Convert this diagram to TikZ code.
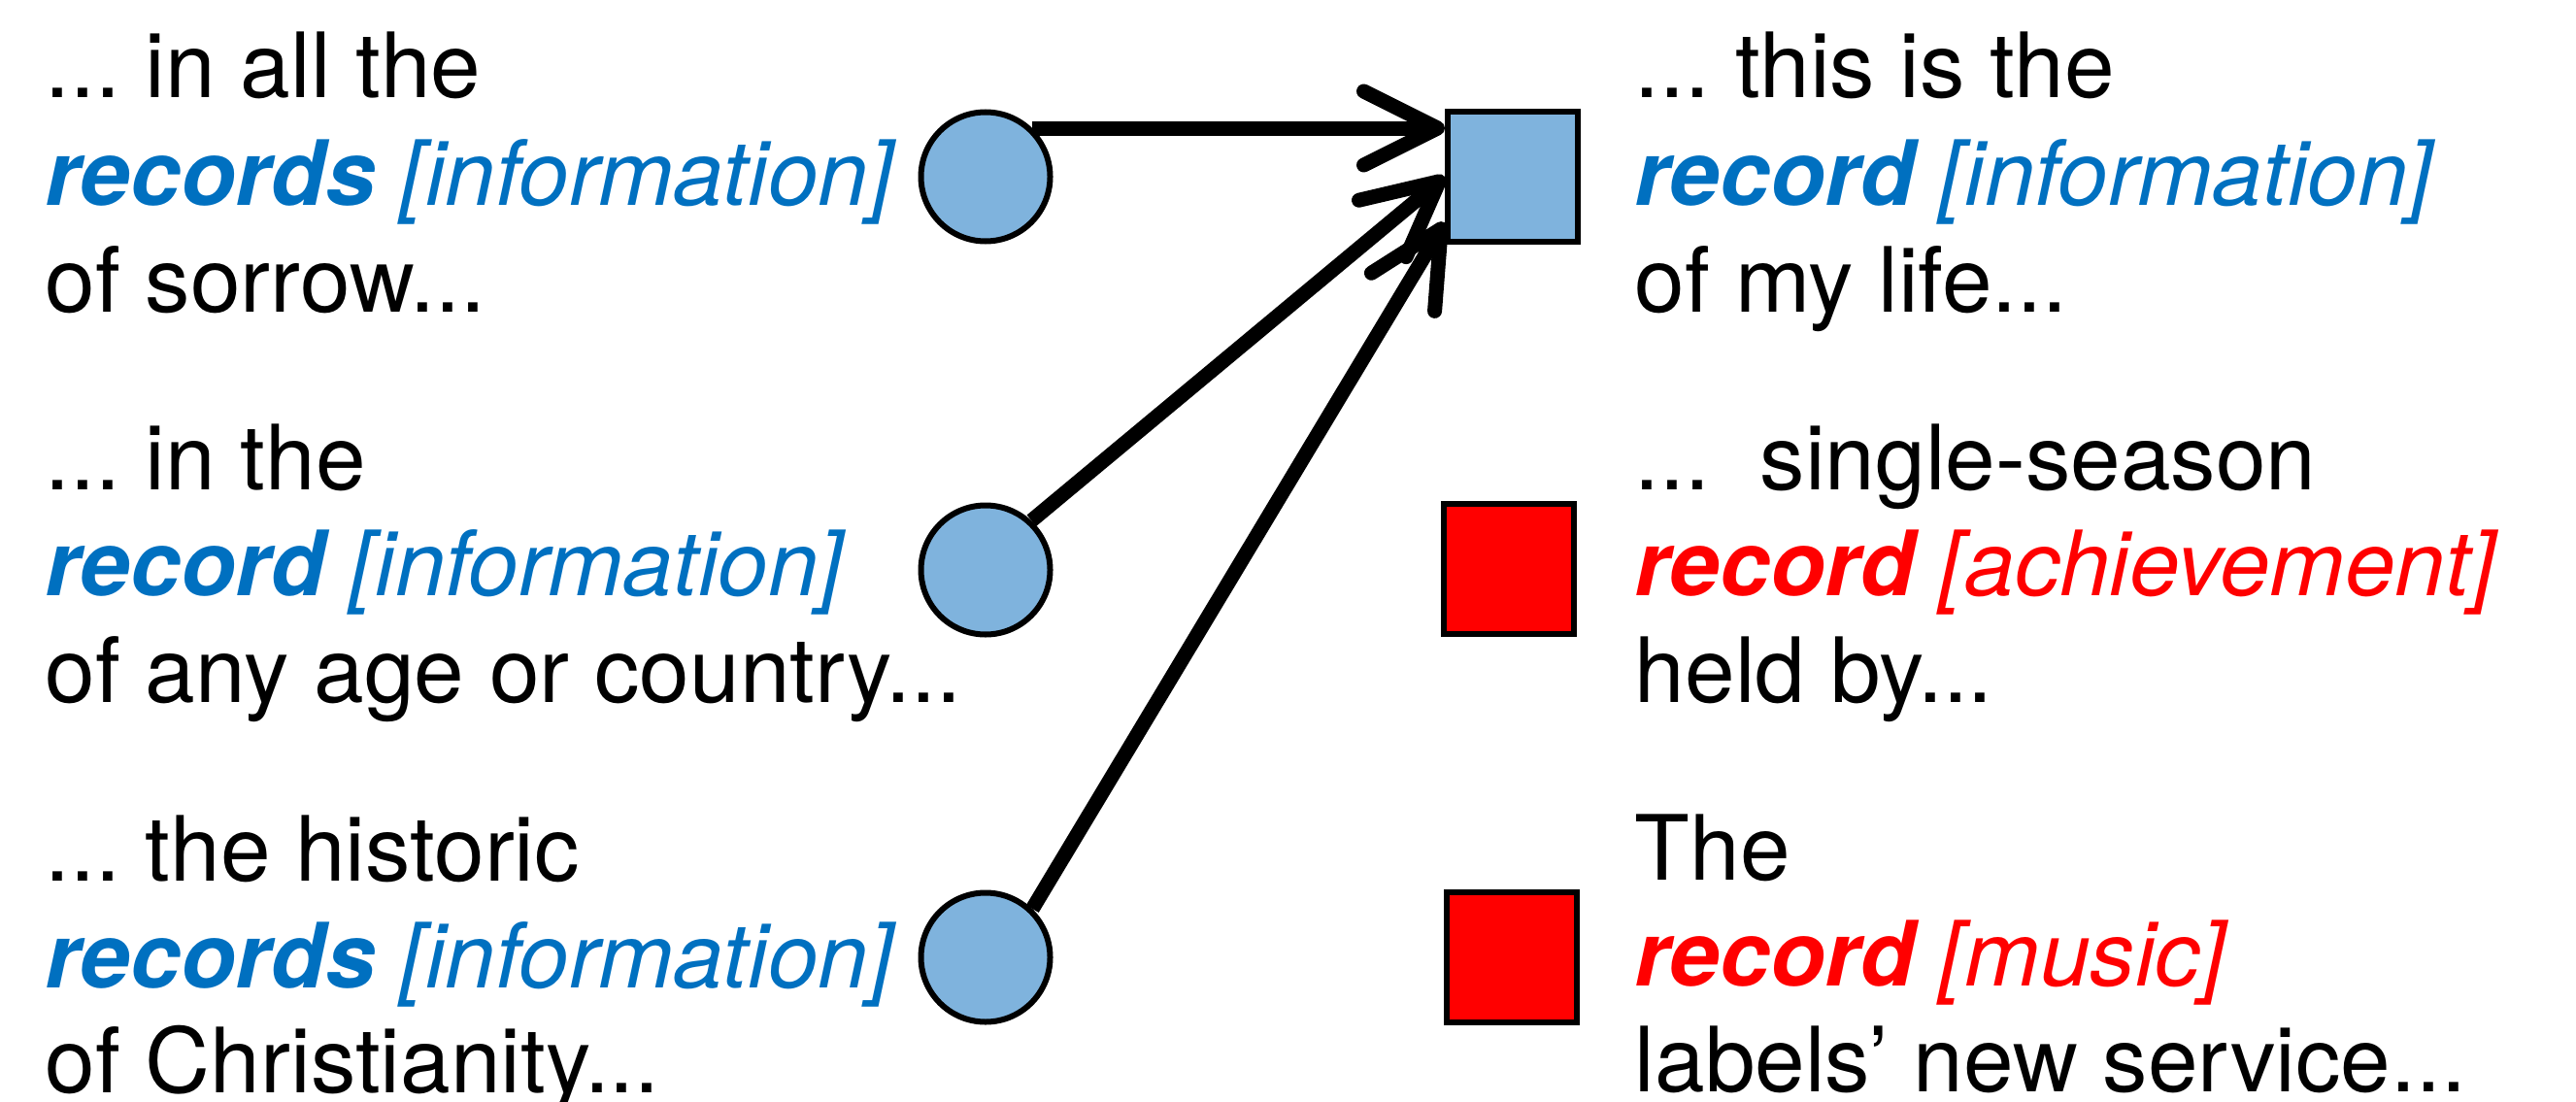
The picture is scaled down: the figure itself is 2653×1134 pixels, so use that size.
\documentclass[tikz,border=0pt]{standalone}
\usepackage{fontspec}
\setmainfont{TeX Gyre Heros}
\usetikzlibrary{arrows.meta}
\definecolor{txtblue}{HTML}{0070C0}
\definecolor{fillblue}{HTML}{7FB3DD}
\definecolor{txtred}{HTML}{FF0000}
\newcommand\senseword[3]{\textcolor{#1}{{\bfseries\itshape #2} {\itshape [#3]}}}
\frenchspacing
\begin{document}
\begin{tikzpicture}[x=0.25pt,y=-0.25pt,
  txt/.style={anchor=base west, inner sep=0pt, font=\fontsize{23.2}{27.5}\selectfont},
  sense/.style={circle, draw=black, line width=1.5pt, fill=fillblue, minimum size=33.25pt, inner sep=0pt},
  box/.style={rectangle, draw=black, line width=1.5pt, minimum size=33.5pt, inner sep=0pt},
  link/.style={line width=3.75pt, -{Straight Barb[length=19pt,width=19pt,round]}}]
\useasboundingbox (0,0) rectangle (2653,1134);
% left texts
\node[txt] (l1a) at (46,101) {... in all the};
\node[txt] (l1b) at (46,211) {\senseword{txtblue}{records}{information}};
\node[txt] (l1c) at (46,321) {of sorrow...};
\node[txt] (l2a) at (46,504) {... in the};
\node[txt] (l2b) at (46,613) {\senseword{txtblue}{record}{information}};
\node[txt] (l2c) at (46,723) {of any age or country...};
\node[txt] (l3a) at (46,907) {... the historic};
\node[txt] (l3b) at (46,1017) {\senseword{txtblue}{records}{information}};
\node[txt] (l3c) at (46,1125) {of Christianity...};
% right texts
\node[txt] (r1a) at (1683,101) {... this is the};
\node[txt] (r1b) at (1683,211) {\senseword{txtblue}{record}{information}};
\node[txt] (r1c) at (1683,321) {of my life...};
\node[txt] (r2a) at (1683,504) {...\ \ single-season};
\node[txt] (r2b) at (1683,613) {\senseword{txtred}{record}{achievement}};
\node[txt] (r2c) at (1683,723) {held by...};
\node[txt] (r3a) at (1683,906) {The};
\node[txt] (r3b) at (1683,1015) {\senseword{txtred}{record}{music}};
\node[txt] (r3c) at (1683,1124) {labels’ new service...};
% shapes
\node[sense] (c1) at (1015,182) {};
\node[sense] (c2) at (1015,587) {};
\node[sense] (c3) at (1015,986) {};
\node[box, fill=fillblue] (s1) at (1558,182) {};
\node[box, fill=txtred] (s2) at (1554,586) {};
\node[box, fill=txtred] (s3) at (1557,986) {};
% arrows
\draw[link] (c1.46) -- (c1.46 -| s1.west);
\draw[link] (c2.47) -- (s1.west);
\draw[link] (c3.46) -- (s1.214);
\end{tikzpicture}
\end{document}
